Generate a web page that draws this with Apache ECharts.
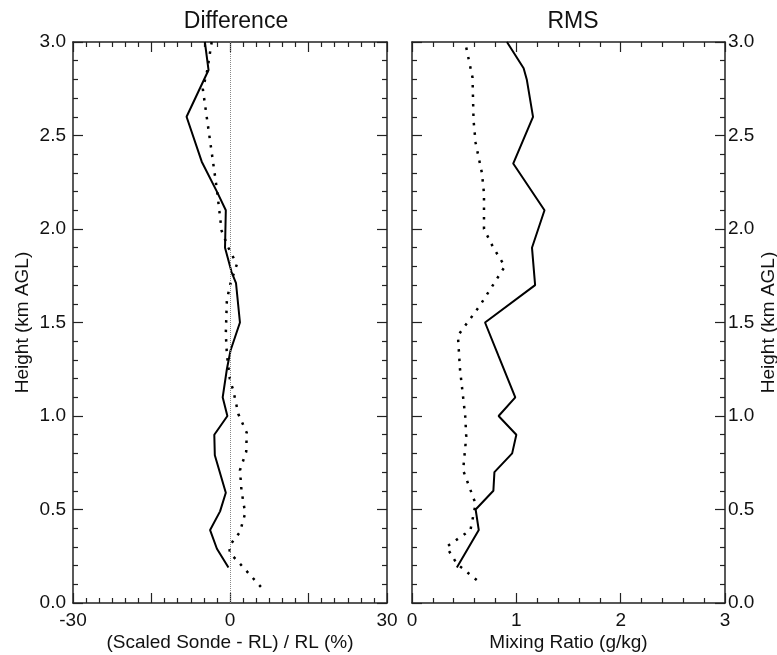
<!DOCTYPE html>
<html>
<head>
<meta charset="utf-8">
<script src="https://cdn.jsdelivr.net/npm/echarts@6/dist/echarts.min.js"></script>
<style>
html,body{margin:0;padding:0;background:#fff;}
#c{width:777px;height:655px;}
</style>
</head>
<body>
<div id="c"></div>
<script>
// Difference panel (percent) : [value, height km]
var diffSolid = [[-4.8,3.0],[-4.1,2.85],[-8.3,2.6],[-5.4,2.36],[-2.5,2.2],[-0.8,2.1],[-0.95,1.9],[0.3,1.77],[1.15,1.71],[1.9,1.5],[0.1,1.35],[-0.6,1.25],[-1.4,1.1],[-0.5,1.0],[-3.0,0.9],[-2.9,0.79],[-0.8,0.59],[-1.9,0.49],[-3.8,0.39],[-2.5,0.29],[-0.3,0.19]];
var diffDotted = [[-3.5,3.0],[-4.4,2.84],[-5.2,2.75],[-2.5,2.21],[-1.6,1.99],[-0.3,1.9],[1.3,1.81],[0.1,1.71],[-0.6,1.62],[-0.8,1.44],[-0.6,1.33],[0.0,1.19],[0.6,1.14],[1.6,1.01],[3.2,0.91],[3.1,0.81],[1.9,0.71],[2.2,0.6],[2.9,0.48],[1.9,0.38],[0.0,0.31],[-0.1,0.27],[1.9,0.21],[6.1,0.08]];
// RMS panel (g/kg)
var rmsSolid = [[0.91,3.0],[1.07,2.86],[1.10,2.8],[1.16,2.6],[0.97,2.35],[1.27,2.1],[1.15,1.9],[1.18,1.7],[0.70,1.5],[0.83,1.32],[0.99,1.1],[0.83,1.0],[1.0,0.9],[0.96,0.8],[0.79,0.7],[0.78,0.6],[0.61,0.5],[0.64,0.39],[0.43,0.19]];
var rmsDotted = [[0.52,2.97],[0.58,2.81],[0.59,2.58],[0.61,2.46],[0.67,2.3],[0.69,2.19],[0.69,2.0],[0.78,1.9],[0.89,1.8],[0.65,1.59],[0.44,1.43],[0.46,1.25],[0.51,1.0],[0.52,0.89],[0.49,0.71],[0.61,0.53],[0.56,0.39],[0.33,0.3],[0.43,0.21],[0.67,0.1]];
var titles = ['Difference','RMS'];
var xNames = ['(Scaled Sonde - RL) / RL (%)','Mixing Ratio (g/kg)'];
var yName = 'Height (km AGL)';

var FONT = 'Liberation Sans, Arial, Helvetica, sans-serif';
var AX = '#222';
var FS = 19;
var tick = {show:true, inside:true, length:10, lineStyle:{color:AX, width:1.2}};
var minor = function(n){return {show:true, splitNumber:n, length:5, lineStyle:{color:AX, width:1.2}};};
var line = {show:true, onZero:false, lineStyle:{color:AX, width:1.5}};
var lab = {color:'#111', fontFamily:FONT, fontSize:FS};

function xAx(grid, min, max, interval, n, pos, showLab, name, fmt){
  return {type:'value', gridIndex:grid, min:min, max:max, interval:interval, position:pos,
    axisLine:line, axisTick:tick, minorTick:minor(n), splitLine:{show:false},
    axisLabel: showLab ? Object.assign({margin:8, formatter:fmt}, lab) : {show:false},
    name: name || '', nameLocation:'middle', nameGap:30, nameMoveOverlap:false,
    nameTextStyle:{color:'#111', fontFamily:FONT, fontSize:FS}};
}
function yAx(grid, pos, showLab, name, gap, margin){
  return {type:'value', gridIndex:grid, min:0, max:3, interval:0.5, position:pos,
    axisLine:line, axisTick:tick, minorTick:minor(5), splitLine:{show:false},
    axisLabel: showLab ? Object.assign({margin:margin||7, formatter:function(v){return v.toFixed(1);}}, lab) : {show:false},
    name: name || '', nameLocation:'middle', nameGap:gap||0, nameRotate:90, nameMoveOverlap:false,
    nameTextStyle:{color:'#111', fontFamily:FONT, fontSize:FS}};
}

var option = {
  backgroundColor:'#fff',
  animation:false,
  title:[
    {text:titles[0], left:231, top:5, textAlign:'center', textStyle:{fontFamily:FONT, fontSize:23, fontWeight:'normal', color:'#111'}},
    {text:titles[1], left:568, top:5, textAlign:'center', textStyle:{fontFamily:FONT, fontSize:23, fontWeight:'normal', color:'#111'}}
  ],
  grid:[
    {left:73, top:42, width:314, height:561, containLabel:false, outerBoundsMode:'none'},
    {left:412, top:42, width:313, height:561, containLabel:false, outerBoundsMode:'none'}
  ],
  xAxis:[
    xAx(0,-30,30,15,6,'bottom',true,xNames[0],function(v){return (v===15||v===-15)?'':String(v);}),
    xAx(0,-30,30,15,6,'top',false),
    xAx(1,0,3,1,5,'bottom',true,xNames[1],function(v){return String(v);}),
    xAx(1,0,3,1,5,'top',false)
  ],
  yAxis:[
    yAx(0,'left',true,yName,41,7),
    yAx(0,'right',false),
    yAx(1,'left',false),
    yAx(1,'right',true,yName,34,3)
  ],
  series:[
    {type:'line', xAxisIndex:0, yAxisIndex:0, data:diffSolid, symbol:'none', silent:true,
     lineStyle:{color:'#000', width:2},
     markLine:{silent:true, symbol:'none', label:{show:false}, lineStyle:{color:'#888', width:1, type:[1,1]}, data:[{xAxis:0}]}},
    {type:'line', xAxisIndex:0, yAxisIndex:0, data:diffDotted, symbol:'none', silent:true,
     lineStyle:{color:'#000', width:2.5, type:[2.5,7]}},
    {type:'line', xAxisIndex:2, yAxisIndex:2, data:rmsSolid, symbol:'none', silent:true,
     lineStyle:{color:'#000', width:2}},
    {type:'line', xAxisIndex:2, yAxisIndex:2, data:rmsDotted, symbol:'none', silent:true,
     lineStyle:{color:'#000', width:2.5, type:[2.5,7]}}
  ]
};
var chart = echarts.init(document.getElementById('c'), null, {renderer:'canvas'});
chart.setOption(option);
</script>
</body>
</html>
